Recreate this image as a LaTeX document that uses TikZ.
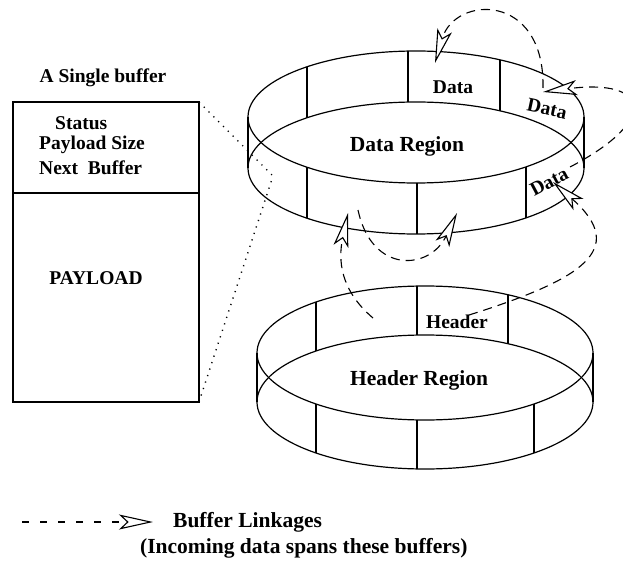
\documentclass[tikz,border=0pt]{standalone}
\usepackage{fontspec}
\setmainfont{Liberation Serif}
\usetikzlibrary{arrows.meta, calc}

\begin{document}
\begin{tikzpicture}[
    x=1pt, y=-1pt,
    link/.style={dash pattern=on 9pt off 6pt, line width=1.1pt,
                 -{Stealth[length=34pt, width=15pt, inset=8pt, fill=white]}},
    zoomline/.style={line width=1.4pt, dash pattern=on 1.2pt off 5.6pt},
    txt/.style={font=\fontsize{19.5}{22}\selectfont\bfseries, inner sep=0pt},
    bigtxt/.style={font=\fontsize{21.5}{24}\selectfont\bfseries, inner sep=0pt}]

    \useasboundingbox (0,0) rectangle (623,569);

    % Data region ring
    \begin{scope}[shift={(416,117)}, line width=1.2pt]
        \draw (0,0) ellipse [x radius=168pt, y radius=66pt];
        \draw (0,51) ellipse [x radius=168pt, y radius=66pt];
        \draw (-168,0) -- (-168,51);
        \draw (168,0) -- (168,51);
        \foreach \dx in {-109,-8,84}
            \draw (\dx, {-66*sqrt(1-(\dx/168)^2)}) -- ++(0,51);
        \foreach \dx in {-109,1,110}
            \draw (\dx, {66*sqrt(1-(\dx/168)^2)}) -- ++(0,51);
    \end{scope}
    \node[bigtxt] (dreg) at (407,146) {Data Region};
    \node[txt] (dtop) at (453,87) {Data};
    \node[txt, rotate=-12] (dside) at (547,109) {Data};
    \node[txt, rotate=28] (dfront) at (549,182) {Data};

    % Header region ring
    \begin{scope}[shift={(425,353)}, line width=1.2pt]
        \draw (0,0) ellipse [x radius=168pt, y radius=67pt];
        \draw (0,49) ellipse [x radius=168pt, y radius=67pt];
        \draw (-168,0) -- (-168,49);
        \draw (168,0) -- (168,49);
        \foreach \dx in {-109,-8,83}
            \draw (\dx, {-67*sqrt(1-(\dx/168)^2)}) -- ++(0,49);
        \foreach \dx in {-109,-8,109}
            \draw (\dx, {67*sqrt(1-(\dx/168)^2)}) -- ++(0,49);
    \end{scope}
    \node[bigtxt] (hreg) at (419,380) {Header Region};
    \node[txt] (htop) at (457,322) {Header};

    % One buffer, blown up
    \node[txt] (bufname) at (103,78) {A Single buffer};
    \coordinate (bufNW) at (13,102);
    \coordinate (bufNE) at (199,102);
    \coordinate (bufSE) at (199,402);
    \draw[line width=1.2pt] (bufNW) rectangle (bufSE);
    \draw[line width=1.2pt] (13,193) -- (199,193);
    \node[txt, anchor=west] (status) at (55,123) {Status};
    \node[txt, anchor=west] (size) at (39,145) {Payload Size};
    \node[txt, anchor=west] (next) at (39,168) {Next\ \ Buffer};
    \node[txt] (payload) at (96,278) {PAYLOAD};

    % Dotted lines to the buffer in the ring
    \coordinate (cellpt) at (273,176);
    \draw[zoomline] (bufNE) -- (cellpt);
    \draw[zoomline] (bufSE) -- (cellpt);

    % Buffer linkages
    \coordinate (hfrom) at (469,315);
    \coordinate (dfin) at (553,182);
    \coordinate (dfout) at (570,167);
    \coordinate (dsin) at (543,92);
    \coordinate (dsout) at (543,88);
    \coordinate (dtin) at (435,63);
    \coordinate (hleft) at (373,318);
    \coordinate (lowA) at (348,213);
    \coordinate (lowB) at (358,210);
    \coordinate (lowC) at (457,213);

    \draw[link] (hfrom) .. controls (580,280) and (630,250) .. (dfin);
    \draw[link] (dfout) .. controls (660,120) and (650,78) .. (dsin);
    \draw[link] (dsout) .. controls (545,-8) and (455,-5) .. (dtin);
    \draw[link] (hleft) .. controls (340,290) and (338,260) .. (lowA);
    \draw[link] (lowB) .. controls (372,275) and (430,270) .. (lowC);

    % Key
    \coordinate (keyA) at (22,522);
    \coordinate (keyB) at (153,522);
    \draw[link, dash pattern=on 7pt off 11pt] (keyA) -- (keyB);
    \node[bigtxt, anchor=west] (keytxt) at (173,522) {Buffer Linkages};
    \node[bigtxt, anchor=west] (keynote) at (140,548) {(Incoming data spans these buffers)};

\end{tikzpicture}
\end{document}
